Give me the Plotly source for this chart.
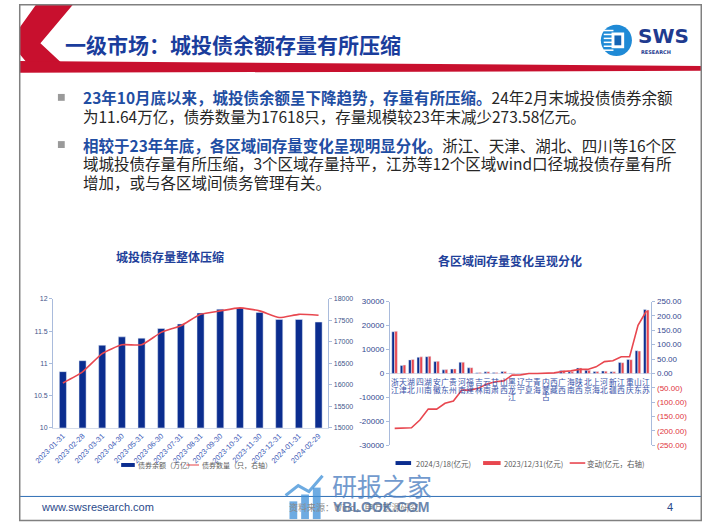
import plotly.graph_objects as go

W, H = 702, 527


def px(x):
    return x / W


def py(y):
    return 1 - y / H


# ---------------- data ----------------
dates = ["2023-01-31", "2023-02-28", "2023-03-31", "2023-04-30", "2023-05-31",
         "2023-06-30", "2023-07-31", "2023-08-31", "2023-09-30", "2023-10-31",
         "2023-11-30", "2023-12-31", "2024-01-31", "2024-02-29"]
balance = [10.87, 11.04, 11.28, 11.41, 11.39, 11.54, 11.61, 11.78, 11.84, 11.86,
           11.79, 11.68, 11.68, 11.64]
bond_count = [16040, 16300, 16725, 16930, 16930, 17220, 17375, 17640, 17720, 17790,
              17720, 17565, 17640, 17618]

regions = ["浙江", "天津", "湖北", "四川", "湖南", "安徽", "广东", "贵州", "河南", "福建",
           "吉林", "云南", "甘肃", "山西", "黑龙江", "辽宁", "宁夏", "青海", "内蒙古", "西藏",
           "广西", "海南", "陕西", "北京", "上海", "河北", "新疆", "江西", "重庆", "山东", "江苏"]
bal_2024 = [17400, 3300, 5650, 6750, 7000, 4950, 1500, 1800, 4650, 2350,
            300, 700, 350, 800, 150, 100, 100, 80, 150, 60,
            1200, 700, 2300, 1300, 800, 1000, 700, 4550, 5800, 9500, 26700]
bal_2023 = [17590, 3490, 5840, 6910, 7120, 5070, 1600, 1900, 4710, 2410,
            350, 740, 380, 830, 160, 105, 100, 80, 150, 58,
            1190, 690, 2290, 1290, 780, 960, 660, 4490, 5740, 9340, 26480]
change = [-191, -190, -189, -162, -124, -124, -104, -96, -58, -58,
          -51, -37, -29, -26, -6, -5, 0, 0, 0, 2,
          7, 9, 14, 14, 23, 41, 44, 58, 58, 167, 217]

left_ticks = [10000 * k for k in range(3, -4, -1)]
right_ticks = [50 * k for k in range(5, -6, -1)]

NAVY = "#0b2d8f"
RED = "#e8474f"
BLUE_TXT = "#1e3f9a"
AX = "#a9bbdc"
FONT = "Noto Sans CJK SC"

fig = go.Figure()

# left chart
fig.add_trace(go.Bar(x=dates, y=balance, name="债券余额（万亿）", marker_color=NAVY,
                     width=0.36, xaxis="x", yaxis="y"))
fig.add_trace(go.Scatter(x=dates, y=bond_count, name="债券数量（只，右轴）", mode="lines",
                         line=dict(color=RED, width=1.6, shape="spline", smoothing=0.5),
                         xaxis="x", yaxis="y2"))

# right chart
fig.add_trace(go.Bar(x=regions, y=bal_2024, name="2024/3/18(亿元)", marker_color=NAVY,
                     width=0.32, offset=-0.34, xaxis="x2", yaxis="y3"))
fig.add_trace(go.Bar(x=regions, y=bal_2023, name="2023/12/31(亿元)", marker_color=RED,
                     width=0.32, offset=0.0, xaxis="x2", yaxis="y3"))
fig.add_trace(go.Scatter(x=regions, y=change, name="变动(亿元，右轴)", mode="lines",
                         line=dict(color=RED, width=1.6),
                         xaxis="x2", yaxis="y4"))

tick_small = dict(size=7, color="#44548a", family="Liberation Sans")

layout = dict(
    width=W, height=H,
    margin=dict(l=0, r=0, t=0, b=0),
    paper_bgcolor="white", plot_bgcolor="rgba(0,0,0,0)",
    font=dict(family=FONT),
    barmode="overlay",
    showlegend=False,
    xaxis=dict(domain=[px(35), px(318)], anchor="y", type="category",
               tickangle=-45, tickfont=dict(size=7.5, color="#3d5cb8", family="Liberation Sans"),
               showline=True, linecolor="#d5ddeb", linewidth=1, ticks="",
               showgrid=False, zeroline=False),
    yaxis=dict(domain=[py(431), py(300)], range=[10, 12], dtick=0.5,
               showline=True, linecolor=AX, ticks="outside", ticklen=3, tickcolor=AX,
               tickfont=tick_small, showgrid=False, zeroline=False),
    yaxis2=dict(overlaying="y", side="right", anchor="x", range=[15000, 18000], dtick=500,
                tickformat="d", showline=True, linecolor=AX, ticks="outside", ticklen=3,
                tickcolor=AX, tickfont=tick_small, showgrid=False, zeroline=False),
    xaxis2=dict(domain=[px(381), px(650)], anchor="y3", type="category",
                showticklabels=False, showline=False, ticks="", showgrid=False, zeroline=False),
    yaxis3=dict(domain=[py(449), py(302.7)], anchor="x2", range=[-30000, 30000],
                tickvals=left_ticks, ticktext=[str(v) for v in left_ticks],
                showline=True, linecolor=AX, ticks="outside", ticklen=3, tickcolor=AX,
                tickfont=dict(size=8, color="#34488f", family="Liberation Sans"),
                showgrid=False, zeroline=True, zerolinecolor="#d8dfee", zerolinewidth=1),
    yaxis4=dict(overlaying="y3", side="right", anchor="x2", range=[-250, 250],
                tickvals=right_ticks,
                ticktext=[("%.2f" % v) if v >= 0 else
                          "<span style='color:#e0343c'>(%.2f)</span>" % abs(v)
                          for v in right_ticks],
                showline=True, linecolor=AX, ticks="outside", ticklen=3, tickcolor=AX,
                tickfont=dict(size=8, color="#34488f", family="Liberation Sans"),
                showgrid=False, zeroline=False),
)
fig.update_layout(**layout)

shapes = []
ann = []


def poly(points, color, opacity=1.0):
    path = "M " + " L ".join("%f,%f" % (px(x), py(y)) for x, y in points) + " Z"
    return dict(type="path", path=path, xref="paper", yref="paper",
                fillcolor=color, line=dict(width=0), opacity=opacity, layer="below")


def text(x, y, t, size, color, anchor="left", family=FONT, opacity=1.0, pad=1):
    ann.append(dict(x=px(x), y=py(y), xref="paper", yref="paper", xanchor=anchor,
                    yanchor="middle", text=t, showarrow=False, opacity=opacity, borderpad=pad,
                    font=dict(size=size, color=color, family=family)))


# header decoration
shapes.append(poly([(18, 0), (56, 0), (22, 40), (46, 62), (10, 62), (0, 50), (0, 25)], "#c8102e"))
shapes.append(poly([(0, 58), (702, 63), (702, 68), (0, 70)], "#c8102e"))
# logo
shapes.append(dict(type="circle", xref="paper", yref="paper",
                   x0=px(598), x1=px(630), y0=py(53), y1=py(21),
                   fillcolor="#1f8ad6", line=dict(width=0)))
for yy in [27, 31, 35, 39, 43, 47]:
    shapes.append(dict(type="line", xref="paper", yref="paper",
                       x0=px(601), x1=px(611), y0=py(yy), y1=py(yy),
                       line=dict(color="white", width=1.5)))
shapes.append(dict(type="rect", xref="paper", yref="paper",
                   x0=px(609), x1=px(622), y0=py(45), y1=py(29),
                   fillcolor="white", line=dict(width=0)))
shapes.append(dict(type="rect", xref="paper", yref="paper",
                   x0=px(612), x1=px(619), y0=py(42), y1=py(32),
                   fillcolor="#1565b5", line=dict(width=0)))
text(635, 33, "<b>SWS</b>", 20, "#1f3b8f", family="DejaVu Sans", pad=0)
text(638, 48.5, "<b>RESEARCH</b>", 5, "#1f3b8f", family="DejaVu Sans", pad=0)

text(45, 41, "<b>一级市场：城投债余额存量有所压缩</b>", 21, "#1a3d9c")

# bullets
for yy in [95, 143]:
    shapes.append(dict(type="rect", xref="paper", yref="paper",
                       x0=px(40), x1=px(47), y0=py(yy + 3.5), y1=py(yy - 3.5),
                       fillcolor="#9a9a9a", line=dict(width=0)))

B = "<b><span style='color:#1f4ea3'>%s</span></b>"
lines = [
    (95, B % "23年10月底以来，城投债余额呈下降趋势，存量有所压缩。" + "24年2月末城投债债券余额"),
    (114, "为11.64万亿，债券数量为17618只，存量规模较23年末减少273.58亿元。"),
    (143, B % "相较于23年年底，各区域间存量变化呈现明显分化。" + "浙江、天津、湖北、四川等16个区"),
    (162, "域城投债存量有所压缩，3个区域存量持平，江苏等12个区域wind口径城投债存量有所"),
    (181, "增加，或与各区域间债务管理有关。"),
]
for yy, t in lines:
    text(64, yy, t, 15.5, "#262626")

# chart titles
text(155, 257, "<b>城投债存量整体压缩</b>", 12, BLUE_TXT, anchor="center")
text(505, 261, "<b>各区域间存量变化呈现分化</b>", 12, BLUE_TXT, anchor="center")

# vertical region labels at the zero line
for r in regions:
    for j, ch in enumerate(r):
        ann.append(dict(x=r, y=0, xref="x2", yref="y3", xanchor="center", yanchor="middle",
                        yshift=-(8.5 + j * 7.3), text=ch, showarrow=False, borderpad=0,
                        font=dict(size=7.8, color="#3550a8", family=FONT)))

# legends (left chart)
shapes.append(dict(type="rect", xref="paper", yref="paper", x0=px(105), x1=px(119),
                   y0=py(471), y1=py(467), fillcolor=NAVY, line=dict(width=0)))
text(120, 469, "债券余额（万亿）", 7, "#595959")
shapes.append(dict(type="line", xref="paper", yref="paper", x0=px(172), x1=px(185),
                   y0=py(469), y1=py(469), line=dict(color="#f2a0a3", width=2)))
text(186, 469, "债券数量（只，右轴）", 7, "#595959")

# legends (right chart)
shapes.append(dict(type="rect", xref="paper", yref="paper", x0=px(387), x1=px(403),
                   y0=py(469), y1=py(465), fillcolor=NAVY, line=dict(width=0)))
text(406, 467, "2024/3/18(亿元)", 7.5, "#595959")
shapes.append(dict(type="rect", xref="paper", yref="paper", x0=px(477), x1=px(495),
                   y0=py(469), y1=py(465), fillcolor=RED, line=dict(width=0)))
text(496, 467, "2023/12/31(亿元)", 7.5, "#595959")
shapes.append(dict(type="line", xref="paper", yref="paper", x0=px(566), x1=px(582),
                   y0=py(467), y1=py(467), line=dict(color=RED, width=1.6)))
text(582, 467, "变动(亿元，右轴)", 7.5, "#595959")

# footer
shapes.append(dict(type="line", xref="paper", yref="paper", x0=0, x1=1, y0=py(501), y1=py(501),
                   line=dict(color="#2f6fb5", width=1)))
text(21, 512, "www.swsresearch.com", 11, "#2a4a8a", family="Liberation Sans")
text(669, 512, "4", 11, "#2a4a8a", anchor="center", family="Liberation Sans")
text(275, 512, "资料来源：Wind，申万宏源研究", 9, "#8a8a8a")
# watermark
for x0, top in [(278, 506), (290, 499), (302, 492)]:
    shapes.append(dict(type="rect", xref="paper", yref="paper", x0=px(x0), x1=px(x0 + 8),
                       y0=py(524), y1=py(top), fillcolor="#3d8fd8", opacity=0.75,
                       line=dict(width=0)))
shapes.append(dict(type="path", xref="paper", yref="paper",
                   path="M %f,%f L %f,%f L %f,%f L %f,%f" % (px(274), py(500), px(287), py(490),
                                                             px(298), py(496), px(312), py(480)),
                   line=dict(color="#3d8fd8", width=3), opacity=0.75))
text(320, 489, "研报之家", 25, "#4f82c2", opacity=0.8)
text(321, 512, "<b>YBLOOK.COM</b>", 14, "#4a6a9a", family="Liberation Sans", opacity=0.8)

# slide border
shapes.append(dict(type="rect", xref="paper", yref="paper", x0=px(0.75), x1=px(701.25),
                   y0=py(525.5), y1=py(0.75), line=dict(color="#808080", width=1.5),
                   fillcolor="rgba(0,0,0,0)"))

fig.update_layout(shapes=shapes, annotations=ann)
fig.write_html("out.html", config={"displayModeBar": False, "staticPlot": True},
               post_script="document.body.style.margin='0';document.body.style.overflow='hidden';")
